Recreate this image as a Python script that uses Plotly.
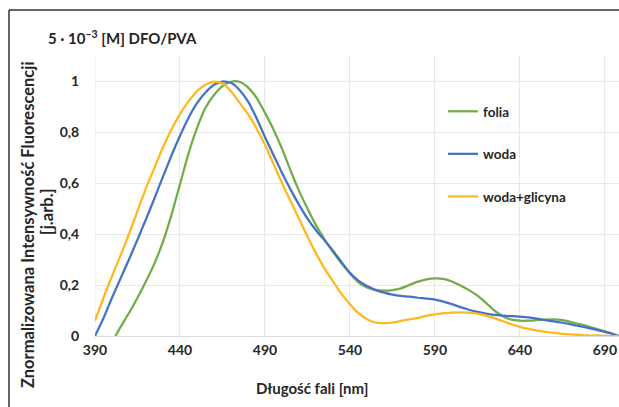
import plotly.graph_objects as go

# wavelengths [nm]
wl = [390, 395, 400, 405, 410, 415, 420, 425, 430, 435, 440, 445, 450, 455, 460,
      465, 470, 475, 480, 485, 490, 495, 500, 505, 510, 515, 520, 525, 530, 535,
      540, 545, 550, 555, 560, 565, 570, 575, 580, 585, 590, 595, 600, 605, 610,
      615, 620, 625, 630, 635, 640, 645, 650, 655, 660, 665, 670, 675, 680, 685,
      690, 695, 698]

folia = [None, None, None, 0.035, 0.09, 0.15, 0.215, 0.285, 0.37, 0.475, 0.595, 0.715, 0.815, 0.895, 0.945,
         0.98, 0.997, 0.997, 0.975, 0.935, 0.875, 0.81, 0.735, 0.65, 0.57, 0.50, 0.435, 0.38, 0.33, 0.285,
         0.245, 0.21, 0.19, 0.18, 0.178, 0.18, 0.187, 0.2, 0.213, 0.222, 0.226, 0.224, 0.214, 0.198, 0.18,
         0.158, 0.13, 0.10, 0.077, 0.064, 0.06, 0.06, 0.062, 0.064, 0.065, 0.062, 0.055, 0.047, 0.038, 0.028,
         0.018, 0.008, 0.0]
folia_start = 402  # first point of folia series

woda = [0.0, 0.07, 0.15, 0.225, 0.30, 0.378, 0.458, 0.54, 0.625, 0.708, 0.785, 0.855, 0.913, 0.955, 0.985,
        0.998, 0.993, 0.965, 0.92, 0.855, 0.78, 0.71, 0.64, 0.575, 0.515, 0.46, 0.415, 0.375, 0.335, 0.29,
        0.248, 0.217, 0.196, 0.181, 0.17, 0.162, 0.157, 0.154, 0.15, 0.147, 0.143, 0.135, 0.125, 0.113, 0.103,
        0.095, 0.088, 0.083, 0.08, 0.078, 0.076, 0.073, 0.068, 0.062, 0.057, 0.052, 0.046, 0.039, 0.032, 0.024,
        0.016, 0.007, 0.0]

glicyna = [0.06, 0.15, 0.235, 0.315, 0.40, 0.49, 0.58, 0.66, 0.74, 0.81, 0.87, 0.92, 0.96, 0.985, 0.998,
           0.99, 0.96, 0.915, 0.87, 0.815, 0.75, 0.675, 0.6, 0.53, 0.46, 0.39, 0.325, 0.265, 0.215, 0.165,
           0.125, 0.09, 0.066, 0.053, 0.05, 0.053, 0.059, 0.065, 0.071, 0.079, 0.085, 0.09, 0.092, 0.093, 0.092,
           0.088, 0.08, 0.07, 0.058, 0.046, 0.036, 0.028, 0.021, 0.016, 0.012, 0.008, 0.006, 0.004, 0.002, 0.002,
           0.001, 0.0, 0.0]

x_ticks = [390, 440, 490, 540, 590, 640, 690]
y_ticks = [0, 0.2, 0.4, 0.6, 0.8, 1]
y_tick_labels = ["0", "0,2", "0,4", "0,6", "0,8", "1"]

FONT = "Lato"
TXT = "#262626"

fx = [folia_start] + [w for w, v in zip(wl, folia) if v is not None and w > folia_start]
fy = [0.0] + [v for w, v in zip(wl, folia) if v is not None and w > folia_start]

LINE_W = 2.25
fig = go.Figure()
fig.add_trace(go.Scatter(x=fx, y=fy, name="folia", mode="lines",
                         line=dict(color="#70AD47", width=LINE_W, shape="spline", smoothing=0.6),
                         legendgroup="a"))
fig.add_trace(go.Scatter(x=wl, y=woda, name="woda", mode="lines",
                         line=dict(color="#4472C4", width=LINE_W, shape="spline", smoothing=0.6),
                         legendgroup="b"))
fig.add_trace(go.Scatter(x=wl, y=glicyna, name="woda+glicyna", mode="lines",
                         line=dict(color="#FFB81C", width=LINE_W, shape="spline", smoothing=0.6),
                         legendgroup="c"))

L, T, B = 95, 56, 71
W = 619 - L
H = 407 - T - B

def px(x):
    return (x - L) / W

def py(y):
    return (407 - B - y) / H

bold = dict(family=FONT, color=TXT, weight="bold")

fig.update_layout(
    width=619, height=407,
    margin=dict(l=L, r=0, t=T, b=B),
    paper_bgcolor="white", plot_bgcolor="white",
    font=dict(size=14, **bold),
    showlegend=True,
    legend=dict(x=px(443), y=py(96), xanchor="left", yanchor="top",
                bgcolor="rgba(0,0,0,0)", tracegroupgap=22,
                font=dict(size=13.5, **bold), itemwidth=30),
    xaxis=dict(range=[390, 698.3], tickvals=x_ticks, showgrid=True, gridcolor="#e8e8e8",
               gridwidth=1, zeroline=False, showline=False, ticks="outside", ticklen=1,
               tickcolor="rgba(0,0,0,0)", tickfont=dict(size=14, **bold)),
    yaxis=dict(range=[0, 280 / 255], tickvals=y_ticks, ticktext=y_tick_labels, showgrid=True,
               gridcolor="#e8e8e8", gridwidth=1, zeroline=True, zerolinecolor="#d9d9d9", zerolinewidth=1,
               showline=False, ticks="outside", ticklen=12, tickcolor="rgba(0,0,0,0)",
               tickfont=dict(size=14, **bold)),
    annotations=[
        dict(text="5 · 10<sup>−3</sup> [M] DFO/PVA", xref="paper", yref="paper", x=px(46), y=py(37),
             xanchor="left", yanchor="middle", showarrow=False, font=dict(size=15, **bold)),
        dict(text="Długość fali [nm]", xref="paper", yref="paper", x=px(312), y=py(388),
             xanchor="center", yanchor="middle", showarrow=False, font=dict(size=15, **bold)),
        dict(text="Znormalizowana Intensywność Fluorescencji", xref="paper", yref="paper",
             x=px(28), y=py(225), xanchor="center", yanchor="middle", textangle=-90, showarrow=False,
             font=dict(size=16.5, **bold)),
        dict(text="[j.arb.]", xref="paper", yref="paper",
             x=px(47), y=py(212), xanchor="center", yanchor="middle", textangle=-90, showarrow=False,
             font=dict(size=16.5, **bold)),
    ],
    shapes=[
        dict(type="line", xref="paper", yref="paper", x0=px(9), x1=px(619), y0=py(10), y1=py(10),
             line=dict(color="#333333", width=1.5)),
        dict(type="line", xref="paper", yref="paper", x0=px(9), x1=px(9), y0=py(10), y1=py(407),
             line=dict(color="#333333", width=1.5)),
        dict(type="line", xref="x", yref="paper", x0=390, x1=390, y0=0, y1=1,
             line=dict(color="#e8e8e8", width=1), layer="below"),
    ],
)

fig.write_html("out.html", config={"displayModeBar": False},
               post_script="document.body.style.margin='0';")
